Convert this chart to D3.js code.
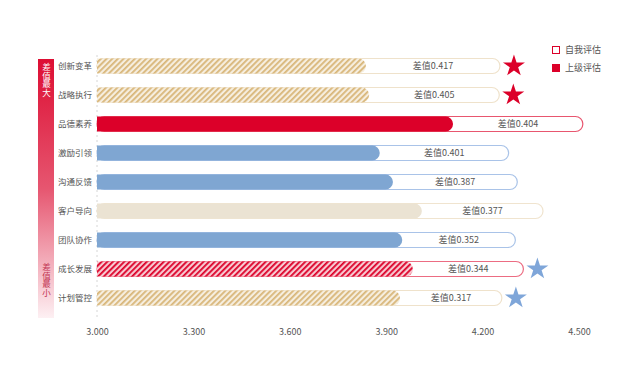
<!DOCTYPE html>
<html>
<head>
<meta charset="utf-8">
<script src="https://cdn.jsdelivr.net/npm/d3@7"></script>
<style>
  body { margin: 0; background: #fff; }
  svg { display: block; font-family: "Noto Sans CJK SC", "Noto Sans", sans-serif; }
</style>
</head>
<body>
<div id="chart"></div>
<script>
const categories = ['创新变革', '战略执行', '品德素养', '激励引领', '沟通反馈', '客户导向', '团队协作', '成长发展', '计划管控'];
const superiorScores = [3.837, 3.847, 4.108, 3.880, 3.921, 4.011, 3.950, 3.983, 3.943];
const selfScores = [4.254, 4.252, 4.512, 4.281, 4.308, 4.388, 4.302, 4.327, 4.260];
const diffLabels = ['0.417', '0.405', '0.404', '0.401', '0.387', '0.377', '0.352', '0.344', '0.317'];
const barStyles = ['tan', 'tan', 'red', 'blue', 'blue', 'beige', 'blue', 'redHatch', 'tan'];
const starMarks = ['red', 'red', null, null, null, null, null, 'blue', 'blue'];
const xTicks = [3.0, 3.3, 3.6, 3.9, 4.2, 4.5];

const W = 640, H = 377;

const fills = {
    tan: 'url(#hatchTan)',
    red: '#dc0029',
    blue: '#7fa6d2',
    beige: '#ebe3d3',
    redHatch: 'url(#hatchRed)'
};
const outlines = {
    tan: '#efe2cb',
    red: '#e8566f',
    blue: '#a9c3e8',
    beige: '#f0e4cf',
    redHatch: '#ec6c82'
};
const starColors = { red: '#dc0029', blue: '#7fa6d9' };

const svg = d3.select('#chart').append('svg')
    .attr('width', W)
    .attr('height', H);

const defs = svg.append('defs');

function hatch(id, bg, fg) {
    const p = defs.append('pattern')
        .attr('id', id)
        .attr('patternUnits', 'userSpaceOnUse')
        .attr('width', 4)
        .attr('height', 4)
        .attr('patternTransform', 'rotate(45)');
    p.append('rect').attr('width', 4).attr('height', 4).attr('fill', bg);
    p.append('rect').attr('width', 1.8).attr('height', 4).attr('fill', fg);
}
hatch('hatchTan', '#f6eedf', '#d8b679');
hatch('hatchRed', '#f7c9d1', '#dc0029');

const grad = defs.append('linearGradient')
    .attr('id', 'sideGrad')
    .attr('x1', 0).attr('y1', 0).attr('x2', 0).attr('y2', 1);
grad.append('stop').attr('offset', '0%').attr('stop-color', '#dd0e33');
grad.append('stop').attr('offset', '50%').attr('stop-color', '#e65670');
grad.append('stop').attr('offset', '100%').attr('stop-color', '#fdf0f3');

const x = d3.scaleLinear()
    .domain([3.0, 4.5])
    .range([97, 579]);

const y = d3.scaleBand()
    .domain(categories)
    .range([51.5, 312.5])
    .paddingInner(0.5)
    .paddingOuter(0.25);

const barH = 15;

// side gradient bar
svg.append('rect')
    .attr('x', 38)
    .attr('y', 59)
    .attr('width', 16)
    .attr('height', 259)
    .attr('fill', 'url(#sideGrad)');

svg.append('text')
    .attr('x', 46.5)
    .attr('y', 63)
    .style('writing-mode', 'vertical-rl')
    .attr('fill', '#fff')
    .style('font-size', '8.5px')
    .text('差值最大');
svg.append('text')
    .attr('x', 46.5)
    .attr('y', 263)
    .style('writing-mode', 'vertical-rl')
    .attr('fill', '#c23553')
    .style('font-size', '8.5px')
    .text('差值最小');

// dashed axis line
svg.append('line')
    .attr('x1', x(3.0)).attr('x2', x(3.0))
    .attr('y1', 55).attr('y2', 318)
    .attr('stroke', '#d6d6d6')
    .attr('stroke-dasharray', '2,3');

// x tick labels
const xAxis = svg.append('g')
    .attr('transform', 'translate(0,320)')
    .call(d3.axisBottom(x).tickValues(xTicks).tickFormat(d3.format('.3f')).tickSize(0).tickPadding(9));
xAxis.select('.domain').remove();
xAxis.selectAll('text')
    .attr('fill', '#555')
    .style('font-size', '9px')
    .style('font-family', '"Noto Sans CJK SC", sans-serif');

const rows = categories.map((c, i) => ({
    cat: c,
    sup: superiorScores[i],
    self: selfScores[i],
    diff: diffLabels[i],
    style: barStyles[i],
    star: starMarks[i]
}));

const g = svg.append('g');

// category labels
g.selectAll('.cat')
    .data(rows)
    .join('text')
    .attr('class', 'cat')
    .attr('x', 92)
    .attr('y', d => y(d.cat) + y.bandwidth() / 2)
    .attr('dy', '0.35em')
    .attr('text-anchor', 'end')
    .attr('fill', '#555')
    .style('font-size', '8.5px')
    .text(d => d.cat);

// self-assessment outline bars
g.selectAll('.self')
    .data(rows)
    .join('rect')
    .attr('class', 'self')
    .attr('x', x(3.0))
    .attr('y', d => y(d.cat) + y.bandwidth() / 2 - barH / 2)
    .attr('width', d => x(d.self) - x(3.0))
    .attr('height', barH)
    .attr('rx', 7.5)
    .attr('fill', '#fff')
    .attr('stroke', d => outlines[d.style])
    .attr('stroke-width', 1.2);

// superior filled bars (square left, round right)
g.selectAll('.sup')
    .data(rows)
    .join('path')
    .attr('class', 'sup')
    .attr('d', d => {
        const x0 = x(3.0), x1 = x(d.sup);
        const y0 = y(d.cat) + y.bandwidth() / 2 - barH / 2;
        const r = barH / 2;
        return `M${x0},${y0}H${x1 - r}A${r},${r} 0 0 1 ${x1 - r},${y0 + barH}H${x0}Z`;
    })
    .attr('fill', d => fills[d.style]);

// difference labels
g.selectAll('.diff')
    .data(rows)
    .join('text')
    .attr('class', 'diff')
    .attr('x', d => (x(d.sup) + x(d.self)) / 2)
    .attr('y', d => y(d.cat) + y.bandwidth() / 2)
    .attr('dy', '0.35em')
    .attr('text-anchor', 'middle')
    .attr('fill', '#555')
    .style('font-size', '9px')
    .text(d => '差值' + d.diff);

// stars
g.selectAll('.star')
    .data(rows.filter(d => d.star))
    .join('path')
    .attr('class', 'star')
    .attr('transform', d => `translate(${x(d.self) + 14},${y(d.cat) + y.bandwidth() / 2})`)
    .attr('d', d3.symbol(d3.symbolStar).size(150))
    .attr('fill', d => starColors[d.star]);

// legend
const legend = svg.append('g').attr('transform', 'translate(552,46)');
legend.append('rect')
    .attr('x', 0.5).attr('y', 0.5)
    .attr('width', 7).attr('height', 7)
    .attr('fill', '#fff')
    .attr('stroke', '#dc0029');
legend.append('text')
    .attr('x', 13).attr('y', 4).attr('dy', '0.35em')
    .attr('fill', '#555')
    .style('font-size', '9px')
    .text('自我评估');
legend.append('rect')
    .attr('x', 0).attr('y', 18)
    .attr('width', 8).attr('height', 8)
    .attr('fill', '#dc0029');
legend.append('text')
    .attr('x', 13).attr('y', 22).attr('dy', '0.35em')
    .attr('fill', '#555')
    .style('font-size', '9px')
    .text('上级评估');
</script>
</body>
</html>
